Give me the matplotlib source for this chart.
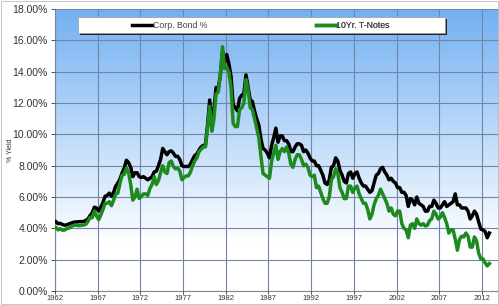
import numpy as np
import matplotlib.pyplot as plt
from matplotlib.patches import Rectangle
from matplotlib.lines import Line2D

plt.rcParams["font.family"] = ["Liberation Sans", "DejaVu Sans"]

# quarterly readings, 1962 Q1 .. 2012 Q4
years = np.arange(1962, 2013)

corp_bond = [
    4.42, 4.30, 4.32, 4.25,  4.20, 4.22, 4.28, 4.33,  4.38, 4.41, 4.41, 4.43,
    4.43, 4.44, 4.51, 4.60,  4.82, 5.00, 5.35, 5.30,  5.10, 5.35, 5.65, 6.05,
    6.10, 6.25, 6.05, 6.30,  6.70, 6.90, 7.15, 7.55,  7.85, 8.35, 8.20, 7.90,
    7.30, 7.55, 7.55, 7.30,  7.25, 7.30, 7.20, 7.10,  7.20, 7.30, 7.60, 7.65,
    8.00, 8.40, 9.10, 8.90,  8.70, 8.90, 8.95, 8.80,  8.60, 8.60, 8.40, 8.00,
    7.95, 7.95, 7.95, 8.10,  8.40, 8.65, 8.75, 9.00,  9.20, 9.30, 9.30, 10.60,
    12.20, 10.80, 11.60, 13.00,  12.90, 13.80, 15.30, 14.60,  15.10, 14.50, 13.70, 11.90,
    11.70, 11.50, 12.30, 12.50,  12.60, 13.80, 13.00, 12.20,  12.10, 11.50, 11.00, 10.60,
    9.70, 9.10, 9.00, 8.80,  8.50, 9.30, 9.80, 10.40,  9.50, 9.90, 9.90, 9.60,
    9.60, 9.40, 8.90, 8.90,  9.20, 9.40, 9.40, 9.30,  8.90, 9.00, 8.80, 8.50,
    8.30, 8.30, 8.00, 8.00,  7.70, 7.40, 6.90, 6.80,  7.10, 7.90, 8.00, 8.50,
    8.30, 7.70, 7.40, 7.00,  6.90, 7.50, 7.60, 7.20,  7.50, 7.60, 7.20, 6.90,
    6.70, 6.70, 6.50, 6.30,  6.40, 6.90, 7.40, 7.50,  7.80, 7.90, 7.60, 7.40,
    7.10, 7.20, 7.00, 6.90,  6.60, 6.60, 6.30, 6.30,  6.10, 5.40, 5.90, 5.80,
    5.50, 6.00, 5.60, 5.50,  5.40, 5.10, 5.10, 5.40,  5.40, 5.80, 5.60, 5.30,
    5.30, 5.50, 5.70, 5.40,  5.50, 5.60, 5.70, 6.20,  5.50, 5.50, 5.30, 5.30,
    5.30, 5.10, 4.60, 4.80,  5.10, 4.90, 4.40, 3.95,  3.90, 3.80, 3.40, 3.70,
]

t_notes = [
    4.05, 3.90, 3.98, 3.88,  3.89, 3.98, 4.02, 4.10,  4.17, 4.20, 4.19, 4.17,
    4.20, 4.21, 4.26, 4.45,  4.70, 4.68, 5.10, 4.80,  4.55, 4.85, 5.20, 5.60,
    5.60, 5.70, 5.45, 5.80,  6.20, 6.25, 6.90, 7.40,  7.45, 7.85, 7.55, 6.80,
    5.80, 6.00, 6.50, 5.90,  6.05, 6.20, 6.20, 6.10,  6.55, 6.80, 7.30, 6.80,
    7.05, 7.55, 8.00, 7.60,  7.50, 8.20, 8.30, 7.95,  7.80, 7.85, 7.65, 7.10,
    7.25, 7.35, 7.35, 7.60,  8.00, 8.30, 8.50, 8.90,  9.05, 9.20, 9.20, 10.40,
    11.80, 10.20, 11.00, 12.60,  12.70, 13.80, 15.60, 14.20,  14.30, 13.95, 13.00, 10.70,
    10.50, 10.50, 11.60, 11.70,  12.00, 13.50, 12.80, 11.70,  11.60, 11.00, 10.40, 9.80,
    8.60, 7.50, 7.40, 7.30,  7.20, 8.30, 8.80, 9.30,  8.40, 8.90, 9.10, 8.90,
    9.20, 8.80, 8.10, 7.90,  8.40, 8.70, 8.70, 8.40,  8.00, 8.10, 7.90, 7.40,
    7.30, 7.40, 6.60, 6.70,  6.30, 5.90, 5.60, 5.60,  6.00, 7.10, 7.30, 7.80,
    7.50, 6.60, 6.30, 5.90,  5.90, 6.70, 6.70, 6.30,  6.60, 6.70, 6.20, 5.90,
    5.60, 5.60, 5.20, 4.60,  4.90, 5.50, 5.90, 6.10,  6.50, 6.20, 5.90, 5.60,
    5.10, 5.30, 4.90, 4.80,  5.10, 5.10, 4.30, 4.00,  3.90, 3.40, 4.20, 4.30,
    4.00, 4.60, 4.30, 4.20,  4.30, 4.15, 4.20, 4.50,  4.60, 5.10, 4.90, 4.60,
    4.70, 5.00, 4.70, 4.30,  3.70, 3.90, 3.90, 3.30,  2.60, 3.30, 3.50, 3.45,
    3.70, 3.50, 2.80, 2.80,  3.45, 3.20, 2.40, 2.05,  2.05, 1.80, 1.60, 1.75,
]

x = np.repeat(years, 4) + np.tile([0.125, 0.375, 0.625, 0.875], len(years))

fig = plt.figure(figsize=(4.99, 3.05), dpi=100)
ax = fig.add_axes([0.110, 0.046, 0.890, 0.924])

# blue-to-white background gradient
grad = np.linspace(0, 1, 256).reshape(-1, 1)
top = np.array([0.45, 0.69, 0.95])
bot = np.array([1.0, 1.0, 1.0])
mix = np.clip(grad * 1.2, 0, 1)
img = top * (1 - mix[..., None]) + bot * mix[..., None]
ax.imshow(img, extent=[1962, 2014, 0, 18], aspect="auto", origin="upper", zorder=0)

ax.plot(x, corp_bond, color="black", lw=2.5, zorder=3)
ax.plot(x, t_notes, color="#1d8a1d", lw=2.5, zorder=4)

ax.set_xlim(1962, 2014)
ax.set_ylim(0, 18)
ax.set_xticks(np.arange(1962, 2013, 5))
ax.set_yticks(np.arange(0, 18.1, 2))
ax.set_yticklabels([f"{v:.2f}%" for v in np.arange(0, 18.1, 2)])
ax.grid(True, color="#7285a5", lw=0.8, zorder=1)
ax.set_axisbelow(False)
ax.tick_params(axis="y", labelsize=7.5, colors="#333333", length=3, width=0.6, pad=2)
ax.tick_params(axis="x", labelsize=5.5, colors="#333333", length=2, width=0.6, pad=1)
for s in ax.spines.values():
    s.set_visible(False)
ax.spines["left"].set_visible(True)
ax.spines["left"].set_color("#888888")
ax.spines["bottom"].set_visible(True)
ax.spines["bottom"].set_color("#888888")
ax.set_ylabel("% Yield", fontsize=5, color="#333333")
ax.yaxis.set_label_coords(-0.092, 0.5)

# legend box with drop shadow
bx, by, bw, bh = 0.052, 0.915, 0.826, 0.057
ax.add_patch(Rectangle((bx + 0.004, by - 0.008), bw, bh, transform=ax.transAxes,
                       facecolor="#222222", edgecolor="none", zorder=9))
ax.add_patch(Rectangle((bx, by), bw, bh, transform=ax.transAxes,
                       facecolor="white", edgecolor="#999999", lw=0.5, zorder=10))
for label, color, cx in [("Corp. Bond %", "black", bx + bw * 0.25),
                         ("10Yr. T-Notes", "#1d8a1d", bx + bw * 0.75)]:
    leg = ax.legend(handles=[Line2D([], [], color=color, lw=2.5)], labels=[label],
                    loc="center", bbox_to_anchor=(cx, by + bh / 2), frameon=False,
                    fontsize=6.3, handlelength=2.2, handletextpad=0.1,
                    borderpad=0, labelcolor="#444444")
    leg.set_zorder(11)
    ax.add_artist(leg)

fig.patches.append(Rectangle((0.002, 0.002), 0.996, 0.996, transform=fig.transFigure,
                             fill=False, edgecolor="#bbbbbb", lw=0.6))

fig.savefig("out.png", dpi=100)
